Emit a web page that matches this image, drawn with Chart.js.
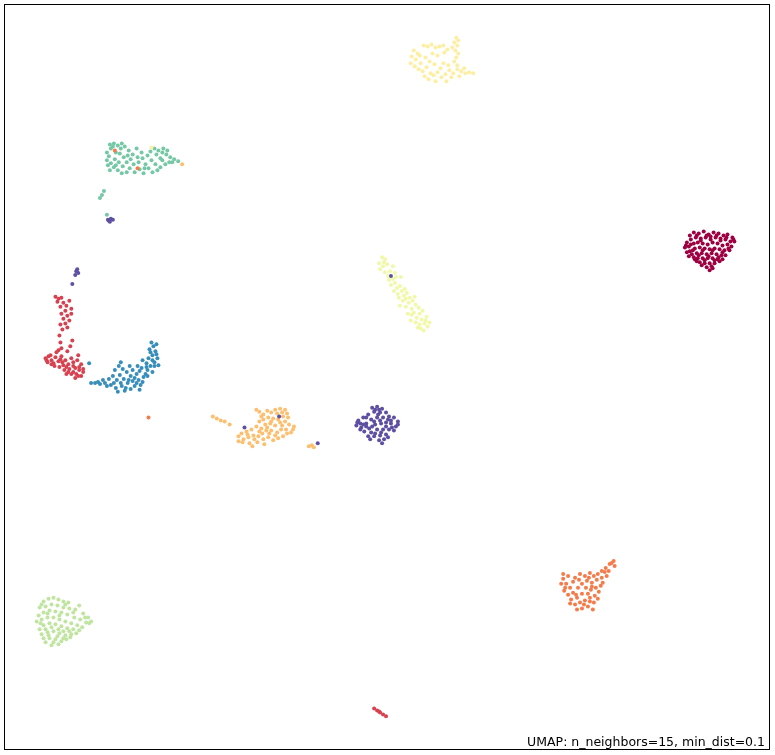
<!DOCTYPE html>
<html>
<head>
<meta charset="utf-8">
<script src="https://cdn.jsdelivr.net/npm/chart.js@4/dist/chart.umd.min.js"></script>
<style>
  html, body { margin: 0; padding: 0; background: #fff; }
  #wrap { position: relative; width: 775px; height: 755px; }
</style>
</head>
<body>
<div id="wrap"><canvas id="umap"></canvas></div>
<script>
// UMAP embedding of the digits data, one array per class (x, y in embedding units)
const digit0 = [[697,231],[702,232],[707,230],[712,233],[717,231],[722,232],[727,234],[731,233],[736,236],[738,240],[734,240],[729,238],[724,237],[719,236],[714,238],[709,236],[704,237],[699,236],[694,238],[690,241],[688,246],[692,245],[697,242],[701,241],[706,242],[711,243],[716,241],[721,242],[726,244],[731,243],[735,245],[733,249],[728,249],[723,248],[718,247],[713,248],[708,247],[703,246],[698,247],[693,250],[690,251],[695,253],[700,252],[705,252],[710,253],[715,252],[720,253],[725,254],[729,254],[726,258],[721,258],[716,257],[711,257],[706,257],[701,257],[697,256],[703,261],[708,262],[713,262],[718,262],[710,266],[715,265],[713,269],[700,260],[723,260],
  [693,234],[700,234],[710,234],[720,234],[730,236],[689,244],[696,249],[706,249],[716,249],[726,251],[732,247],[692,255],[702,254],[712,255],[722,256],[718,259],[708,259],[705,264],[716,267],[737,238],[694,243],[704,239],[714,235],[724,239],[698,258]];
const digit1 = [[52,296],[55,298],[58,297],[54,301],[60,302],[63,305],[57,306],[66,300],[68,308],[62,310],[58,313],[64,315],[68,313],[60,318],[66,320],[62,323],[57,324],[64,327],[59,329],[56,335],[57,342],[69,340],[55,350],[45,356],[42,358],[48,360],[52,357],[50,363],[55,361],[44,362],[58,356],[62,360],[60,365],[65,364],[70,362],[68,358],[74,360],[78,364],[72,368],[66,369],[61,370],[56,367],[76,370],[80,372],[73,374],[68,374],[63,374],[78,376],[72,378],[53,352],[64,351],[58,348],[67,346],[75,355],
  [47,355],[43,360],[51,366],[57,359],[63,367],[70,366],[76,367],[70,372],[65,372],[75,376],[80,369],[59,362],[48,364],
  [374,712],[377,714],[380,716],[383,718],[386,720],[379,715]];
const digit2 = [[616,563],[612,566],[617,568],[608,570],[604,573],[611,573],[600,576],[596,578],[592,575],[587,578],[582,576],[577,580],[570,578],[565,581],[563,586],[568,586],[572,590],[566,593],[570,597],[575,595],[580,590],[584,586],[589,583],[594,585],[599,582],[604,580],[598,590],[593,592],[588,590],[584,596],[579,600],[573,602],[577,607],[582,605],[587,603],[592,600],[597,598],[601,594],[596,605],[590,609],[584,611],[595,612],[579,612],[603,588],[609,578],
  [614,565],[607,574],[591,580],[575,584],[567,590],[578,597],[590,596],[600,601],[586,607],[592,604],[572,606],[605,585],[581,582],[594,589],[565,576],
  [112,148],[135,166],[146,418]];
const digit3 = [[211,417],[215,419],[219,421],[223,422],[228,425],[255,410],[258,412],[262,415],[266,411],[270,413],[274,410],[279,409],[284,410],[286,414],[282,417],[277,420],[272,419],[267,418],[262,420],[258,422],[264,425],[269,424],[274,426],[279,423],[284,422],[288,425],[293,427],[290,433],[285,430],[280,430],[276,433],[270,431],[265,431],[260,429],[255,427],[250,430],[245,432],[240,434],[237,437],[242,440],[247,438],[252,436],[257,437],[262,440],[267,438],[272,441],[277,439],[282,437],[256,443],[248,444],[241,443],[261,434],[237,442],
  [260,417],[276,414],[281,413],[287,418],[270,422],[266,428],[281,426],[286,434],[274,436],[268,434],[253,440],[246,435],[258,432],[292,430],[263,445],[251,447],
  [308,447],[311,446],[313,448],[180,162]];
const digit4 = [[457,34],[459,37],[455,39],[458,42],[453,44],[456,47],[459,50],[457,54],[455,58],[458,62],[424,42],[428,43],[432,41],[436,44],[440,43],[444,42],[448,46],[414,47],[418,50],[412,53],[416,56],[420,52],[426,54],[433,50],[438,52],[445,49],[411,60],[415,63],[419,66],[423,68],[427,64],[431,70],[425,73],[429,76],[434,72],[438,69],[442,74],[446,71],[450,67],[454,70],[458,66],[462,68],[466,70],[470,69],[474,70],[452,74],[447,78],[436,78],[441,65],[435,61],[444,60],[449,62],[421,60],[430,58],[460,73],[465,65],[149,145]];
const digit5 = [[382,256],[385,258],[379,262],[383,265],[387,263],[380,268],[385,271],[390,270],[388,275],[393,278],[395,282],[391,284],[397,287],[400,285],[402,290],[398,293],[404,295],[407,292],[410,297],[403,300],[409,302],[413,300],[406,306],[412,308],[416,304],[419,307],[414,312],[420,313],[423,310],[417,317],[422,319],[427,316],[425,323],[420,324],[428,326],[424,330],[418,327],[411,320],[399,297],[394,290],[408,313],[400,305],[395,272],[401,276],[393,265],[430,322],
  [384,261],[389,279],[396,276],[405,288],[415,296],[412,314],[416,322],[421,328],[426,320],[406,298]];
const digit6 = [[45,601],[50,600],[55,602],[60,604],[65,605],[40,604],[36,610],[42,609],[48,607],[54,608],[60,610],[66,611],[72,612],[76,608],[80,616],[85,620],[88,624],[83,625],[77,622],[71,620],[64,617],[58,615],[52,614],[46,613],[40,615],[35,618],[33,624],[38,622],[44,620],[50,620],[56,622],[62,624],[68,626],[74,628],[79,630],[70,632],[64,631],[58,629],[52,627],[46,626],[40,628],[36,632],[38,637],[44,635],[50,634],[56,636],[62,638],[68,637],[46,641],[52,642],[58,644],[42,645],[48,648],[55,647],[63,642],[73,636],
  [38,607],[62,607],[70,615],[82,620],[86,626],[37,626],[42,632],[48,630],[55,632],[60,634],[66,634],[76,633],[40,641],[45,638],[54,639],[60,641],[50,645],[67,640],[44,616],[56,618]];
const digit7 = [[107,142],[111,141],[115,143],[119,141],[122,144],[108,146],[104,150],[106,154],[104,158],[108,161],[112,157],[116,160],[111,165],[107,168],[115,168],[120,164],[124,160],[121,155],[117,151],[113,150],[126,148],[130,152],[128,157],[131,162],[127,166],[132,170],[137,167],[141,171],[136,160],[140,156],[139,150],[134,146],[145,153],[148,149],[152,146],[156,148],[160,150],[164,152],[168,155],[172,157],[176,159],[149,158],[153,162],[158,165],[163,162],[167,160],[146,166],[150,170],[155,168],[143,162],[158,156],[161,146],[165,148],[119,171],[124,170],
  [110,144],[118,146],[105,163],[113,163],[125,153],[135,155],[142,166],[160,158],[170,160],[154,152],
  [99,193],[101,189],[97,196],[104,213]];
const digit8 = [[149,342],[151,346],[147,349],[153,351],[150,355],[155,358],[152,362],[156,365],[148,366],[144,363],[140,360],[145,370],[150,372],[139,368],[135,366],[130,370],[134,374],[128,376],[124,372],[120,369],[116,366],[112,370],[117,375],[121,379],[114,380],[110,376],[106,379],[102,383],[97,384],[92,383],[108,385],[113,388],[119,386],[125,383],[130,381],[136,380],[141,377],[128,389],[122,391],[132,386],[143,374],[138,385],[127,366],[118,362],[152,366],[146,358],
  [154,344],[148,352],[154,354],[150,360],[144,367],[137,371],[132,378],[126,380],[118,383],[111,383],[104,386],[100,380],[123,388],[134,383],[140,382],[145,376],[137,390],[115,392],[88,383],[95,382],
  [86,363]];
const digit9 = [[372,408],[377,407],[382,409],[374,412],[380,413],[386,413],[368,415],[363,418],[358,421],[356,426],[361,428],[366,424],[371,420],[377,418],[383,418],[389,417],[394,418],[398,422],[396,427],[391,424],[386,423],[381,424],[375,425],[369,429],[364,432],[371,433],[377,430],[383,430],[389,430],[394,431],[386,435],[380,436],[374,437],[379,441],[384,440],[368,437],[391,421],[360,430],
  [375,410],[379,410],[366,418],[360,424],[374,422],[380,421],[388,420],[392,428],[398,425],[366,427],[372,427],[386,427],[381,433],[375,434],[363,425],[388,438],[370,440],[382,444],[357,423],[378,415],
  [73,270],[75,272],[72,274],[74,268],[69,283],[391,275],[243,428],[278,417],[317,444],[106,219],[108,217],[107,220],[105,218],[110,218]];

const classes = [digit0, digit1, digit2, digit3, digit4, digit5, digit6, digit7, digit8, digit9];
// Spectral colormap sampled at i/9
const colors = ['#9e0142', '#d74250', '#f67b4a', '#fdbf6f', '#feeea2', '#f1f9a9', '#bfe5a0', '#75c8a5', '#388eba', '#5e4fa2'];
const caption = 'UMAP: n_neighbors=15, min_dist=0.1';

const frame = {
  id: 'frame',
  afterDraw(chart) {
    const { ctx, chartArea: a } = chart;
    ctx.save();
    ctx.strokeStyle = '#000';
    ctx.lineWidth = 1;
    ctx.strokeRect(a.left + 0.5, a.top + 0.5, a.right - a.left - 2, a.bottom - a.top - 2);
    ctx.fillStyle = '#000';
    ctx.font = '12.5px "DejaVu Sans"';
    ctx.textAlign = 'right';
    ctx.textBaseline = 'alphabetic';
    ctx.fillText(caption, a.right - 6, a.bottom - 5);
    ctx.restore();
  }
};

new Chart(document.getElementById('umap'), {
  type: 'scatter',
  data: {
    datasets: classes.map((pts, i) => ({
      label: String(i),
      data: pts.map(p => ({ x: p[0], y: p[1] })),
      backgroundColor: colors[i],
      borderWidth: 0,
      pointRadius: 2,
      order: i === 9 ? -1 : i
    }))
  },
  options: {
    responsive: true,
    maintainAspectRatio: false,
    animation: false,
    layout: { padding: 0 },
    plugins: {
      legend: { display: false },
      tooltip: { enabled: false }
    },
    scales: {
      x: { display: false, min: 0, max: 775 },
      y: { display: false, min: 0, max: 755, reverse: true }
    }
  },
  plugins: [frame]
});
</script>
</body>
</html>
